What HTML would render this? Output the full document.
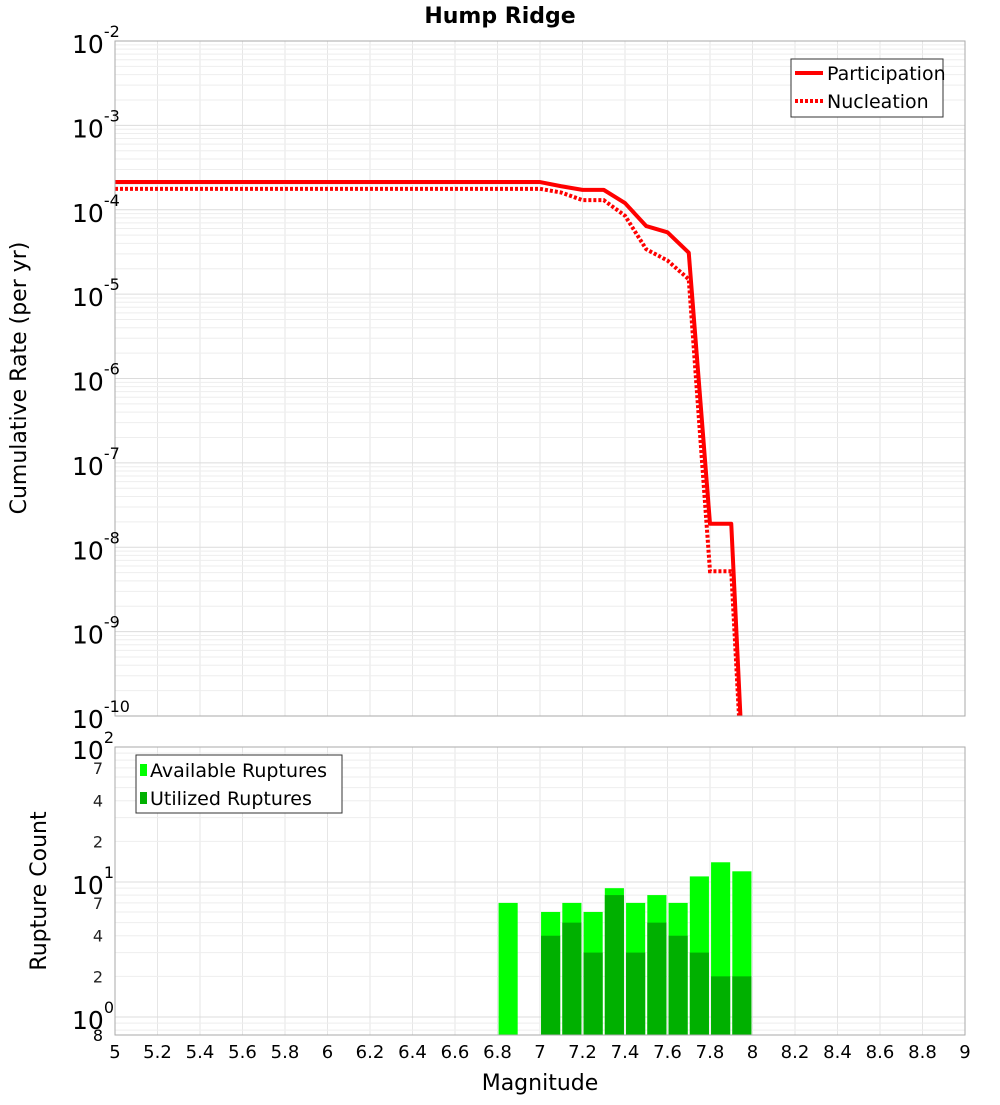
<!DOCTYPE html>
<html><head><meta charset="utf-8"><style>
body{margin:0;background:#fff;font-family:"Liberation Sans","DejaVu Sans",sans-serif}
svg text{font-family:"DejaVu Sans","Liberation Sans",sans-serif}
</style></head><body>
<svg id="chart" width="1000" height="1100" xmlns="http://www.w3.org/2000/svg">
<defs>
<clipPath id="ct"><rect x="115" y="41" width="850" height="675"/></clipPath>
<clipPath id="cb"><rect x="115" y="747" width="850" height="288"/></clipPath>
</defs>
<text x="500" y="23" font-size="22" font-weight="bold" text-anchor="middle">Hump Ridge</text>
<g id="grid"></g>
<g id="topPlot" clip-path="url(#ct)"></g>
<g id="bars" clip-path="url(#cb)"></g>
<rect x="115" y="41" width="850" height="675" fill="none" stroke="#aaa"/>
<rect x="115" y="747" width="850" height="288" fill="none" stroke="#aaa"/>
<g id="labels"></g>
<text transform="translate(26,378) rotate(-90)" font-size="22" text-anchor="middle">Cumulative Rate (per yr)</text>
<text transform="translate(46,891) rotate(-90)" font-size="22" text-anchor="middle">Rupture Count</text>
<text x="540" y="1090" font-size="22" text-anchor="middle">Magnitude</text>
<g>
<rect x="791" y="59" width="152" height="58" fill="#fff" stroke="#333"/>
<line x1="795" y1="73" x2="823" y2="73" stroke="red" stroke-width="4"/>
<text x="827" y="80" font-size="19">Participation</text>
<line x1="795" y1="101" x2="823" y2="101" stroke="red" stroke-width="4" stroke-dasharray="3,2"/>
<text x="827" y="108" font-size="19">Nucleation</text>
</g>
<g>
<rect x="136" y="755" width="206" height="58" fill="#fff" stroke="#333"/>
<rect x="140" y="764" width="7" height="12" fill="#00ff00"/>
<text x="150" y="777" font-size="19">Available Ruptures</text>
<rect x="140" y="792" width="7" height="12" fill="#00b000"/>
<text x="150" y="805" font-size="19">Utilized Ruptures</text>
</g>
</svg>
<script>
const mags=[5.0,7.0,7.1,7.2,7.3,7.4,7.5,7.6,7.7,7.8,7.9,8.0];
const participation=[2.13e-4,2.13e-4,1.9e-4,1.72e-4,1.72e-4,1.2e-4,6.4e-5,5.4e-5,3.1e-5,1.9e-8,1.9e-8,1e-13];
const nucleation=[1.77e-4,1.77e-4,1.6e-4,1.3e-4,1.3e-4,8.5e-5,3.4e-5,2.5e-5,1.5e-5,5.2e-9,5.2e-9,1e-13];
const barMags=[6.85,7.05,7.15,7.25,7.35,7.45,7.55,7.65,7.75,7.85,7.95];
const available=[7,6,7,6,9,7,8,7,11,14,12];
const utilized=[0,4,5,3,8,3,5,4,3,2,2];
const xTicks=["5","5.2","5.4","5.6","5.8","6","6.2","6.4","6.6","6.8","7","7.2","7.4","7.6","7.8","8","8.2","8.4","8.6","8.8","9"];
const NS="http://www.w3.org/2000/svg";
const X=m=>115+(m-5)*212.5;
const YT=v=>41+(-2-Math.log10(v))*84.375;
const YB=v=>747+(2-Math.log10(v))*135;
function mk(tag,attrs,parent,txt){const e=document.createElementNS(NS,tag);for(const k in attrs)e.setAttribute(k,attrs[k]);if(txt!==undefined)e.textContent=txt;parent.appendChild(e);return e;}
const gridG=document.getElementById('grid'),lab=document.getElementById('labels');
xTicks.forEach(t=>{const x=X(parseFloat(t));
 let l=mk('line',{x1:x,x2:x,y1:41,y2:716,stroke:'#e6e6e6'},gridG);
 
 
 let l2=mk('line',{x1:x,x2:x,y1:747,y2:1035,stroke:'#e6e6e6'},gridG);
 
 
 let tx=mk('text',{x:x,y:1058,'font-size':18,'text-anchor':'middle'},lab,t);
 
 
});
for(let e=-10;e<-2;e++){for(let k=1;k<10;k++){const y=YT(k*Math.pow(10,e));
 let l=mk('line',{x1:115,x2:965,y1:y,y2:y,stroke:k==1?'#dcdcdc':'#eeeeee'},gridG);
 
 }}
for(let e=-10;e<=-2;e++){const y=YT(Math.pow(10,e));
 let t=mk('text',{x:72,y:y+12,'font-size':25},lab,'10');
 
 
 mk('tspan',{dy:-16,'font-size':16},t,String(e));}
for(let e=-1;e<2;e++){for(let k=1;k<10;k++){const v=k*Math.pow(10,e);const y=YB(v);if(y>1035)continue;
 let l=mk('line',{x1:115,x2:965,y1:y,y2:y,stroke:k==1?'#dcdcdc':'#eeeeee'},gridG);
 
 
 if(k==2||k==4||k==7){let t=mk('text',{x:103,y:y+6,'font-size':16,'text-anchor':'end',fill:'#222'},lab,String(k));
 
 }}}
mk('text',{x:103,y:1041,'font-size':16,'text-anchor':'end'},lab,'8');
[2,1,0].forEach(e=>{const y=YB(Math.pow(10,e));
 let t=mk('text',{x:72,y:y+12,'font-size':25},lab,'10');
 
 
 mk('tspan',{dy:-16,'font-size':16},t,String(e));});
const topGroup=document.getElementById('topPlot');
function pts(arr){return mags.map((m,i)=>X(m)+','+YT(arr[i])).join(' ');}
let p1=mk('polyline',{points:pts(participation),fill:'none',stroke:'red','stroke-width':4,'stroke-linejoin':'round'},topGroup);


let p2=mk('polyline',{points:pts(nucleation),fill:'none',stroke:'red','stroke-width':4,'stroke-dasharray':'3,2'},topGroup);


const barsG=document.getElementById('bars');const w=0.09*212.5;
barMags.forEach((m,i)=>{const x=X(m)-w/2;
 let a=mk('rect',{x:x,y:YB(available[i]),width:w,height:1035-YB(available[i]),fill:'#00ff00'},barsG);
 
 
 if(utilized[i]>0){let u=mk('rect',{x:x,y:YB(utilized[i]),width:w,height:1035-YB(utilized[i]),fill:'#00b000'},barsG);
 
 }});
</script>
</body></html>
